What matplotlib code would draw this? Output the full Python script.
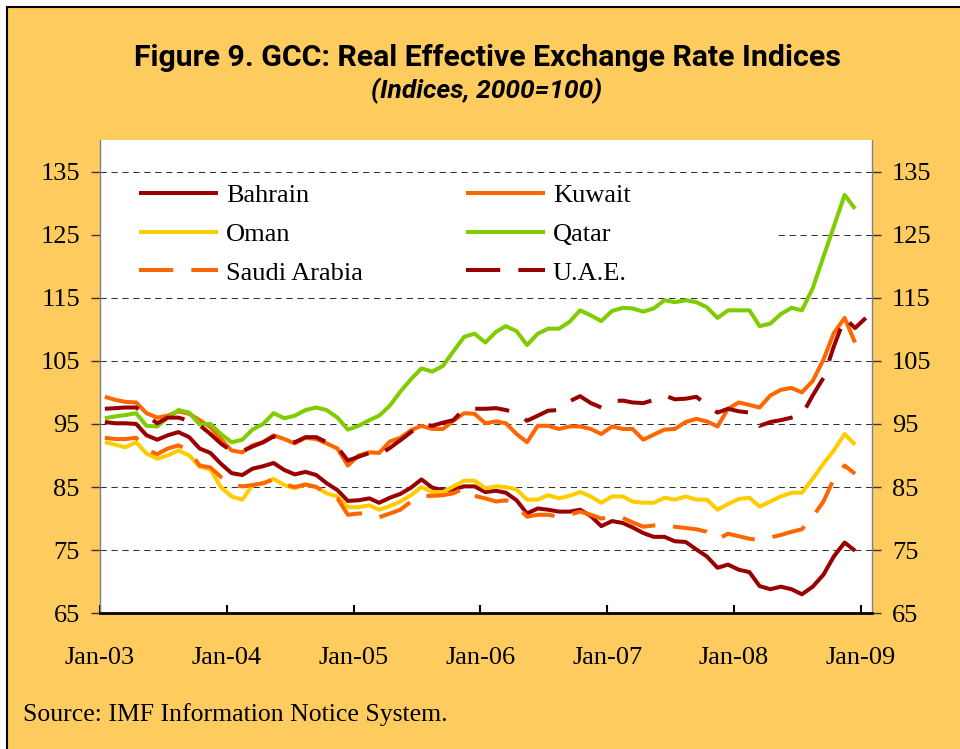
import matplotlib
matplotlib.use("Agg")
import matplotlib.pyplot as plt
import matplotlib.dates as mdates
from matplotlib.patches import Rectangle
import numpy as np
import pandas as pd

# monthly index values (2000=100), Jan-03 onwards
bahrain = [95.3, 95.1, 95.1, 95.0, 93.2, 92.5, 93.2, 93.7, 92.9, 91.1, 90.4, 88.7,
           87.2, 86.9, 87.9, 88.3, 88.8, 87.7, 87.0, 87.4, 86.9, 85.6, 84.5, 82.8,
           82.9, 83.2, 82.5, 83.3, 83.9, 84.9, 86.2, 84.9, 84.5, 84.6, 85.1, 85.1,
           84.2, 84.4, 84.1, 82.9, 80.8, 81.6, 81.4, 81.1, 81.1, 81.4, 80.4, 78.8,
           79.6, 79.3, 78.6, 77.7, 77.1, 77.1, 76.4, 76.3, 75.1, 74.0, 72.2, 72.7,
           71.9, 71.5, 69.3, 68.8, 69.2, 68.8, 68.0, 69.2, 71.1, 74.0, 76.2, 74.9]
kuwait = [99.3, 98.8, 98.5, 98.4, 96.7, 96.0, 96.3, 97.0, 96.6, 95.6, 94.5, 92.6,
          90.8, 90.5, 91.6, 92.1, 93.2, 92.6, 91.9, 92.8, 92.6, 91.9, 91.1, 88.4,
          90.0, 90.5, 90.4, 92.2, 92.8, 94.0, 94.7, 94.2, 94.2, 95.5, 96.7, 96.6,
          95.1, 95.4, 95.1, 93.4, 92.1, 94.7, 94.7, 94.2, 94.6, 94.6, 94.2, 93.4,
          94.6, 94.2, 94.2, 92.5, 93.3, 94.1, 94.2, 95.3, 95.8, 95.4, 94.6, 97.4,
          98.4, 98.0, 97.6, 99.5, 100.4, 100.7, 100.0, 101.8, 105.2, 109.4, 111.8, 107.9]
oman = [92.1, 91.7, 91.3, 92.1, 90.3, 89.5, 90.0, 90.8, 90.0, 88.2, 87.8, 85.0,
        83.5, 83.0, 85.3, 85.6, 86.3, 85.3, 84.8, 85.4, 85.0, 84.0, 83.5, 81.8,
        81.8, 82.1, 81.4, 82.0, 82.7, 83.7, 85.0, 84.2, 84.2, 85.1, 86.0, 86.0,
        84.8, 85.1, 85.0, 84.6, 83.0, 83.0, 83.7, 83.2, 83.6, 84.2, 83.5, 82.5,
        83.5, 83.5, 82.7, 82.5, 82.5, 83.3, 83.0, 83.5, 83.0, 83.0, 81.4, 82.3,
        83.1, 83.3, 81.9, 82.7, 83.5, 84.1, 84.1, 86.3, 88.7, 90.8, 93.4, 91.7]
qatar = [95.9, 96.2, 96.4, 96.7, 94.7, 94.6, 96.0, 97.2, 96.8, 94.9, 95.0, 93.4,
         92.1, 92.5, 94.1, 95.0, 96.7, 95.9, 96.3, 97.2, 97.6, 97.2, 96.0, 94.1,
         94.7, 95.6, 96.3, 97.9, 100.1, 102.1, 103.8, 103.3, 104.2, 106.5, 108.8, 109.3,
         107.9, 109.6, 110.5, 109.7, 107.5, 109.3, 110.1, 110.1, 111.2, 113.0, 112.2, 111.3,
         112.9, 113.4, 113.3, 112.8, 113.3, 114.6, 114.3, 114.6, 114.3, 113.5, 111.8, 113.0,
         113.0, 113.0, 110.5, 110.9, 112.4, 113.4, 113.0, 116.5, 121.5, 126.3, 131.3, 129.1]
saudi = [92.8, 92.6, 92.6, 92.8, 90.9, 90.2, 91.1, 91.6, 90.8, 88.4, 88.1, 86.6,
         85.4, 85.1, 85.3, 85.6, 86.2, 85.4, 85.0, 85.4, 85.0, 84.0, 83.2, 80.6,
         80.8, 80.8, 80.2, 80.8, 81.4, 82.7, 83.6, 83.6, 83.7, 84.0, 84.8, 83.6,
         83.2, 82.7, 82.9, 82.0, 80.3, 80.6, 80.6, 80.3, 80.6, 81.1, 80.6, 80.0,
         80.3, 80.1, 79.4, 78.7, 78.9, 79.1, 78.7, 78.5, 78.3, 77.9, 76.7, 77.6,
         77.2, 76.8, 76.6, 77.0, 77.4, 77.9, 78.3, 80.3, 82.7, 86.3, 88.4, 87.1]
uae = [97.4, 97.5, 97.6, 97.6, 96.3, 95.1, 96.0, 96.0, 95.5, 94.8, 93.4, 91.9,
       90.7, 90.7, 91.4, 92.1, 93.0, 92.6, 92.1, 92.9, 92.9, 92.1, 91.3, 89.2,
       89.8, 90.4, 90.1, 91.2, 92.4, 93.7, 95.0, 94.7, 95.2, 95.6, 97.4, 97.4,
       97.4, 97.5, 97.2, 96.8, 95.5, 96.3, 97.1, 97.2, 98.6, 99.4, 98.3, 97.6,
       98.6, 98.7, 98.4, 98.3, 98.8, 99.5, 98.9, 99.0, 99.3, 98.0, 96.8, 97.4,
       97.0, 96.8, 94.7, 95.3, 95.6, 96.0, 96.4, 99.5, 102.3, 107.3, 111.8, 110.2,
       111.8]

names = ["Bahrain", "Kuwait", "Oman", "Qatar", "Saudi Arabia", "U.A.E."]
colors = ["#990000", "#FF6600", "#FFCC00", "#7FCC00", "#FF6600", "#990000"]
dashed = [False, False, False, False, True, True]
series = [bahrain, kuwait, oman, qatar, saudi, uae]

orange_bg = "#FECB5E"
serif = ["Liberation Serif", "DejaVu Serif"]

fig = plt.figure(figsize=(9.6, 7.49), dpi=100, facecolor="white")
# orange panel with black frame (top and left edges visible)
fig.patches.append(Rectangle((7 / 960, -0.05), 1.1, 0.05 + (749 - 7) / 749,
                             transform=fig.transFigure, facecolor=orange_bg,
                             edgecolor="black", linewidth=1.5, zorder=-10))

ax = fig.add_axes([100 / 960, (749 - 613.2) / 749, 771.7 / 960, 473.2 / 749])
ax.set_facecolor("white")

for name, vals, c, d in zip(names, series, colors, dashed):
    dates = pd.date_range("2003-01-01", periods=len(vals), freq="MS") + pd.Timedelta(days=14)
    if d:
        ax.plot(dates, vals, color=c, lw=2.9, linestyle=(0, (8.5, 4.5)),
                dash_capstyle="butt", label=name)
    else:
        ax.plot(dates, vals, color=c, lw=2.9, solid_joinstyle="round",
                solid_capstyle="butt", label=name)

ax.set_xlim(pd.Timestamp("2003-01-01"), pd.Timestamp("2009-02-01"))
ax.set_ylim(65, 140)
ax.set_yticks(np.arange(65, 136, 10))
ax.xaxis.set_major_locator(mdates.YearLocator())
ax.xaxis.set_major_formatter(mdates.DateFormatter("%b-%y"))

ax.yaxis.grid(True, linestyle=(0, (6, 4.5)), linewidth=0.75, color="#333333")
ax.set_axisbelow(True)

ax.spines["top"].set_visible(False)
ax.spines["left"].set_color("#808080")
ax.spines["right"].set_color("#808080")
ax.spines["left"].set_linewidth(1)
ax.spines["right"].set_linewidth(1)
ax.spines["bottom"].set_color("black")
ax.spines["bottom"].set_linewidth(2)

ax.tick_params(axis="y", left=True, right=True, labelleft=True, labelright=True,
               direction="out", length=6.5, width=1, color="#333333", pad=8,
               labelsize=19)
ax.tick_params(axis="x", direction="in", length=6, width=1.5, color="black",
               pad=24, labelsize=19)
for lab in ax.get_xticklabels() + ax.get_yticklabels():
    lab.set_fontfamily(serif)
for t in ax.yaxis.get_major_ticks():
    t.label2.set_fontfamily(serif)

# white legend area hides the gridline behind it
ax.add_patch(Rectangle((0, 116.5), (775 - 100) / 771.7, 18.0,
                       transform=ax.get_yaxis_transform(), facecolor="white",
                       edgecolor="none", zorder=1))

handles, labels = ax.get_legend_handles_labels()
order = [0, 2, 4, 1, 3, 5]
leg = ax.legend([handles[i] for i in order], [labels[i] for i in order],
                ncol=2, loc="upper left", bbox_to_anchor=(0.0505, 0.907),
                frameon=False, borderpad=0, borderaxespad=0, handlelength=3.0,
                handletextpad=0.3, columnspacing=3.9, labelspacing=0.57,
                prop={"family": serif, "size": 19})

title_font = ["Roboto", "DejaVu Sans"]
fig.text(487 / 960, 1 - 58 / 749, "Figure 9. GCC: Real Effective Exchange Rate Indices",
         ha="center", va="center", fontsize=21.8, fontweight="bold", family=title_font)
fig.text(487 / 960, 1 - 91 / 749, "(Indices, 2000=100)", ha="center", va="center",
         fontsize=19, fontweight="bold", fontstyle="italic", family=title_font)
fig.text(23 / 960, 1 - 715 / 749, "Source: IMF Information Notice System.",
         ha="left", va="center", fontsize=18.5, family=serif)

fig.savefig("out.png", dpi=100, facecolor=fig.get_facecolor())
